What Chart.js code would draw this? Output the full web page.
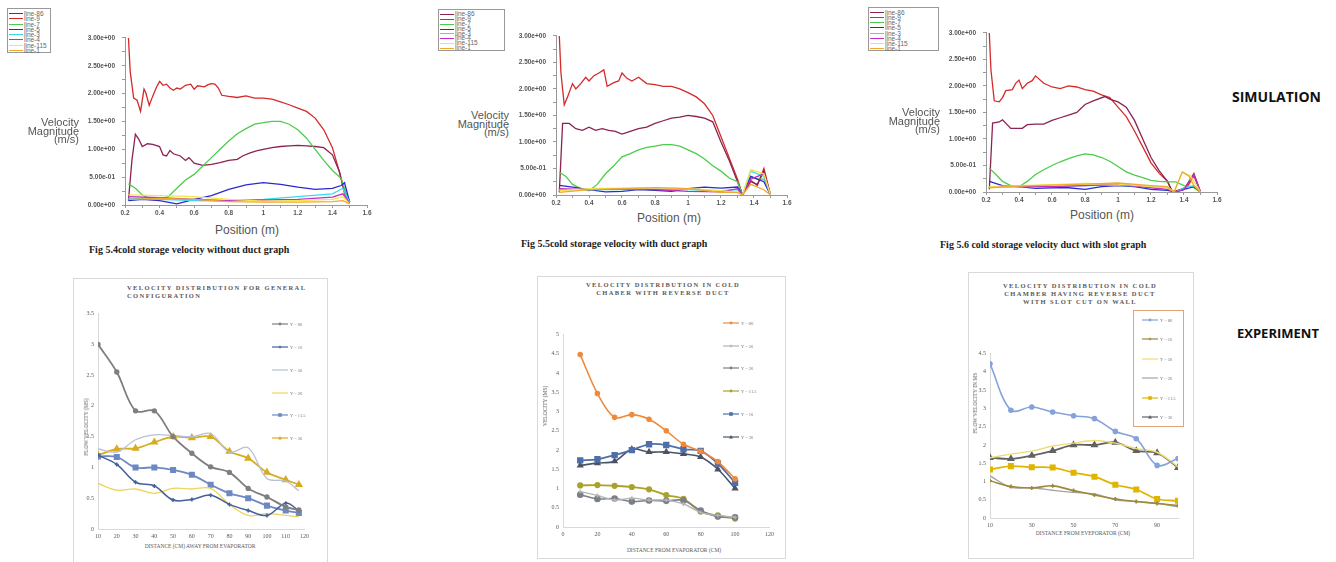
<!DOCTYPE html>
<html>
<head>
<meta charset="utf-8">
<script src="https://cdn.jsdelivr.net/npm/chart.js@4.4.1/dist/chart.umd.min.js"></script>
<style>
  body { margin: 0; width: 1336px; height: 562px; background: #fff; position: relative; overflow: hidden; font-family: Arial, "Liberation Sans", sans-serif; }
  canvas, .abs { position: absolute; }
  .vlabel { position: absolute; text-align: right; font-size: 11px; line-height: 8.5px; color: #555; }
  .poslabel { position: absolute; font-size: 12px; color: #555; transform: translate(-50%, -50%); white-space: nowrap; }
  .cap { position: absolute; font-family: "Liberation Serif", "Times New Roman", serif; font-weight: bold; font-size: 10px; color: #222; white-space: nowrap; transform: translateY(-50%); }
  .side { position: absolute; font-family: "Open Sans", sans-serif; font-weight: bold; color: #111; white-space: nowrap; transform: translateY(-50%); }
  .simleg { position: absolute; border: 1px solid #999; background: #fff; box-sizing: border-box; padding: 2px 2px 0 1px; color: #666; font-size: 6.5px; }
  .simleg div { display: flex; align-items: center; white-space: nowrap; }
  .simleg span { display: inline-block; width: 14px; height: 1px; margin-right: 1px; }
  .panel { position: absolute; border: 1px solid #d9d9d9; background: #fff; box-sizing: border-box; }
  .etitle { position: absolute; font-family: "Liberation Serif", serif; font-weight: bold; font-size: 6.5px; letter-spacing: 1.4px; line-height: 8px; color: #595959; white-space: nowrap; }
  .eaxis { position: absolute; font-family: "Liberation Serif", serif; font-size: 5.5px; color: #595959; white-space: nowrap; transform: translate(-50%, -50%); }
  .eyaxis { position: absolute; font-family: "Liberation Serif", serif; font-size: 5.5px; color: #595959; white-space: nowrap; transform: translate(-50%, -50%) rotate(-90deg); }
  .eleg { position: absolute; display: flex; align-items: center; font-family: "Liberation Serif", serif; font-size: 4.5px; color: #777; white-space: nowrap; }
</style>
</head>
<body>
<script>
// ---------- simulation data (Position m, Velocity m/s) ----------
const simNames = ['line-86', 'line-9', 'line-7', 'line-5', 'line-3', 'line-4', 'line-115', 'line-1'];
const simColors = ['#8b2252', '#d42a2a', '#4ccc4c', '#2a2ad0', '#3cd8f0', '#c030c0', '#f2e64a', '#f0a830'];
const simXTicks = [0.2, 0.3, 0.4, 0.5, 0.6, 0.7, 0.8, 0.9, 1.0, 1.1, 1.2, 1.3, 1.4, 1.5, 1.6];
const simYTicks = [0, 0.25, 0.5, 0.75, 1, 1.25, 1.5, 1.75, 2, 2.25, 2.5, 2.75, 3];

// Fig 5.4
const f54_x86 = [0.22,0.24,0.26,0.28,0.30,0.33,0.36,0.40,0.42,0.44,0.46,0.48,0.52,0.55,0.57,0.60,0.65,0.70,0.75,0.80,0.85,0.88,0.92,0.96,1.00,1.05,1.10,1.15,1.20,1.25,1.30,1.35,1.40,1.44,1.47,1.50];
const f54_y86 = [0.08,0.8,1.27,1.18,1.05,1.1,1.09,1.05,0.9,0.88,0.98,0.92,0.88,0.8,0.85,0.75,0.71,0.73,0.76,0.8,0.82,0.88,0.93,0.97,1.0,1.03,1.05,1.06,1.07,1.06,1.05,1.03,0.9,0.6,0.25,0.05];
const f54_x9 = [0.22,0.23,0.25,0.27,0.29,0.31,0.32,0.34,0.36,0.38,0.40,0.42,0.44,0.46,0.48,0.50,0.52,0.55,0.58,0.60,0.62,0.64,0.66,0.68,0.70,0.72,0.74,0.76,0.80,0.85,0.90,0.95,1.00,1.05,1.10,1.15,1.20,1.25,1.30,1.35,1.40,1.44,1.47,1.50];
const f54_y9 = [3.0,2.4,1.92,1.88,1.68,2.08,2.02,1.79,1.95,2.1,2.22,2.15,2.17,2.1,2.06,2.1,2.08,2.15,2.17,2.08,2.14,2.13,2.12,2.16,2.18,2.17,2.1,1.97,1.95,1.93,1.96,1.92,1.92,1.9,1.85,1.8,1.74,1.68,1.56,1.35,1.03,0.6,0.2,0.05];
const f54_x7 = [0.22,0.26,0.30,0.35,0.40,0.45,0.50,0.55,0.60,0.65,0.70,0.75,0.80,0.85,0.90,0.95,1.00,1.05,1.10,1.15,1.20,1.25,1.30,1.35,1.40,1.45,1.48,1.50];
const f54_y7 = [0.38,0.3,0.18,0.1,0.1,0.15,0.3,0.45,0.55,0.7,0.85,1.0,1.15,1.28,1.37,1.45,1.48,1.5,1.5,1.45,1.35,1.2,1.0,0.8,0.62,0.48,0.2,0.05];
const f54_x5 = [0.22,0.30,0.40,0.50,0.55,0.60,0.70,0.80,0.90,1.00,1.10,1.20,1.30,1.40,1.45,1.47,1.50];
const f54_y5 = [0.08,0.1,0.08,0.02,0.06,0.1,0.17,0.28,0.36,0.4,0.37,0.32,0.28,0.3,0.35,0.4,0.05];
const f54_xLow = [0.22,0.40,0.60,0.80,1.00,1.20,1.40,1.46,1.50];
const f54_y3 = [0.12,0.1,0.08,0.07,0.1,0.15,0.2,0.3,0.05];
const f54_y4 = [0.15,0.13,0.1,0.08,0.09,0.1,0.14,0.2,0.03];
const f54_y115 = [0.18,0.17,0.15,0.1,0.07,0.08,0.1,0.15,0.02];
const f54_y1 = [0.1,0.12,0.1,0.06,0.05,0.05,0.06,0.08,0.02];

// Fig 5.5
const f55_x86 = [0.22,0.24,0.28,0.32,0.36,0.40,0.44,0.48,0.52,0.56,0.60,0.65,0.70,0.75,0.80,0.85,0.90,0.95,1.00,1.05,1.10,1.15,1.20,1.25,1.30,1.33,1.38,1.42,1.46,1.50];
const f55_y86 = [0.05,1.35,1.35,1.25,1.22,1.28,1.22,1.25,1.22,1.2,1.15,1.2,1.25,1.28,1.35,1.4,1.45,1.47,1.5,1.48,1.45,1.38,1.0,0.65,0.25,0.0,0.25,0.2,0.45,0.0];
const f55_x9 = [0.22,0.23,0.25,0.27,0.30,0.32,0.35,0.38,0.40,0.43,0.46,0.49,0.51,0.55,0.58,0.60,0.63,0.66,0.70,0.75,0.80,0.85,0.90,0.95,1.00,1.05,1.10,1.15,1.20,1.25,1.30,1.33,1.38,1.42,1.46,1.50];
const f55_y9 = [3.0,2.3,1.7,1.85,2.1,2.0,2.1,2.22,2.15,2.25,2.3,2.36,2.05,2.12,2.15,2.3,2.2,2.15,2.22,2.1,2.08,2.05,2.05,2.0,1.93,1.85,1.72,1.5,1.1,0.7,0.3,0.0,0.28,0.18,0.5,0.0];
const f55_x7 = [0.22,0.26,0.30,0.35,0.40,0.45,0.50,0.55,0.60,0.65,0.70,0.75,0.80,0.85,0.90,0.95,1.00,1.05,1.10,1.15,1.20,1.25,1.30,1.33,1.38,1.42,1.46,1.50];
const f55_y7 = [0.43,0.35,0.2,0.12,0.08,0.2,0.4,0.55,0.72,0.78,0.85,0.9,0.92,0.95,0.95,0.92,0.85,0.78,0.68,0.55,0.45,0.32,0.25,0.0,0.35,0.3,0.3,0.0];
const f55_x5 = [0.22,0.30,0.40,0.50,0.60,0.70,0.80,0.90,1.00,1.10,1.20,1.30,1.33,1.38,1.42,1.46,1.50];
const f55_y5 = [0.18,0.15,0.1,0.06,0.07,0.1,0.09,0.07,0.12,0.15,0.13,0.15,0.0,0.35,0.3,0.25,0.0];
const f55_xLow = [0.22,0.40,0.60,0.80,1.00,1.20,1.30,1.33,1.38,1.46,1.50];
const f55_y3 = [0.1,0.1,0.1,0.11,0.1,0.08,0.1,0.0,0.45,0.35,0.0];
const f55_y4 = [0.12,0.1,0.12,0.1,0.07,0.06,0.12,0.0,0.3,0.4,0.0];
const f55_y115 = [0.08,0.12,0.13,0.14,0.12,0.08,0.05,0.0,0.48,0.4,0.0];
const f55_y1 = [0.05,0.1,0.12,0.14,0.12,0.05,0.05,0.0,0.2,0.1,0.0];

// Fig 5.6
const f56_x86 = [0.22,0.24,0.28,0.30,0.35,0.40,0.42,0.45,0.50,0.55,0.60,0.65,0.70,0.75,0.80,0.85,0.92,0.95,1.00,1.05,1.10,1.15,1.20,1.25,1.30,1.33,1.40,1.46,1.50];
const f56_y86 = [0.05,1.3,1.32,1.36,1.2,1.2,1.2,1.27,1.28,1.28,1.35,1.4,1.45,1.5,1.65,1.72,1.8,1.75,1.7,1.6,1.35,1.0,0.65,0.4,0.2,0.0,0.05,0.35,0.0];
const f56_x9 = [0.22,0.23,0.25,0.28,0.30,0.32,0.36,0.38,0.40,0.42,0.45,0.48,0.50,0.55,0.60,0.65,0.70,0.75,0.80,0.85,0.90,0.95,1.00,1.05,1.10,1.15,1.20,1.25,1.30,1.33,1.38,1.42,1.46,1.50];
const f56_y9 = [3.0,2.3,1.72,1.7,1.78,1.91,1.93,2.05,2.11,1.95,2.05,2.1,2.19,2.05,1.98,1.95,2.0,1.98,1.93,1.9,1.83,1.78,1.6,1.42,1.15,0.85,0.55,0.35,0.2,0.0,0.05,0.1,0.3,0.0];
const f56_x7 = [0.22,0.26,0.30,0.35,0.40,0.45,0.50,0.55,0.60,0.65,0.70,0.75,0.80,0.85,0.90,0.95,1.00,1.05,1.10,1.15,1.20,1.25,1.30,1.35,1.40,1.45,1.50];
const f56_y7 = [0.45,0.33,0.2,0.12,0.1,0.2,0.33,0.42,0.5,0.57,0.63,0.68,0.72,0.7,0.65,0.58,0.48,0.38,0.32,0.27,0.22,0.2,0.19,0.19,0.12,0.1,0.0];
const f56_x5 = [0.22,0.30,0.40,0.50,0.60,0.70,0.80,0.90,1.00,1.10,1.20,1.30,1.35,1.40,1.46,1.50];
const f56_y5 = [0.2,0.12,0.1,0.07,0.08,0.08,0.05,0.1,0.12,0.1,0.05,0.03,0.0,0.05,0.1,0.0];
const f56_xLow = [0.22,0.40,0.60,0.80,1.00,1.20,1.30,1.35,1.40,1.46,1.50];
const f56_y3 = [0.1,0.1,0.1,0.12,0.13,0.1,0.08,0.0,0.08,0.12,0.0];
const f56_y4 = [0.1,0.1,0.1,0.12,0.15,0.08,0.05,0.0,0.05,0.33,0.0];
const f56_xYel = [0.22,0.40,0.60,0.80,1.00,1.20,1.30,1.34,1.39,1.44,1.50];
const f56_y115 = [0.1,0.12,0.14,0.16,0.15,0.1,0.08,0.0,0.38,0.3,0.0];
const f56_xOra = [0.22,0.40,0.60,0.80,1.00,1.20,1.30,1.34,1.39,1.43,1.46,1.50];
const f56_y1 = [0.08,0.11,0.13,0.15,0.17,0.12,0.1,0.0,0.38,0.3,0.12,0.0];

// ---------- experiment data (distance cm, velocity m/s) ----------
const exp4Labels = ['Y = 86', 'Y = 16', 'Y = 56', 'Y = 26', 'Y = 11.5', 'Y = 36'];
const exp4X = [10, 20, 30, 40, 50, 60, 70, 80, 90, 100, 110, 117];
const exp4_a = [3.0, 2.55, 1.92, 1.92, 1.5, 1.23, 1.01, 0.92, 0.66, 0.52, 0.36, 0.31];
const exp4_b = [1.2, 1.05, 0.76, 0.7, 0.47, 0.48, 0.55, 0.4, 0.3, 0.22, 0.42, 0.3];
const exp4_c = [1.3, 1.25, 1.45, 1.53, 1.52, 1.5, 1.55, 1.25, 1.32, 0.82, 0.78, 0.62];
const exp4_d = [0.74, 0.63, 0.65, 0.58, 0.66, 0.65, 0.66, 0.4, 0.22, 0.25, 0.22, 0.2];
const exp4_e = [1.18, 1.17, 1.0, 1.0, 0.96, 0.88, 0.72, 0.58, 0.5, 0.38, 0.3, 0.26];
const exp4_f = [1.2, 1.3, 1.31, 1.41, 1.5, 1.48, 1.5, 1.26, 1.15, 0.92, 0.8, 0.72];
const exp4XTicks = [10, 20, 30, 40, 50, 60, 70, 80, 90, 100, 110, 120];
const exp4YTicks = [0, 0.5, 1, 1.5, 2, 2.5, 3, 3.5];

const exp5Labels = ['Y = 86', 'Y = 56', 'Y = 26', 'Y = 11.5', 'Y = 16', 'Y = 36'];
const exp5X = [10, 20, 30, 40, 50, 60, 70, 80, 90, 100];
const exp5_a = [4.48, 3.47, 2.85, 2.92, 2.8, 2.5, 2.15, 1.97, 1.7, 1.25];
const exp5_b = [0.92, 0.82, 0.7, 0.75, 0.7, 0.7, 0.6, 0.38, 0.3, 0.25];
const exp5_c = [0.84, 0.73, 0.74, 0.66, 0.69, 0.68, 0.69, 0.43, 0.27, 0.25];
const exp5_d = [1.08, 1.09, 1.07, 1.04, 0.98, 0.83, 0.73, 0.4, 0.3, 0.22];
const exp5_e = [1.73, 1.76, 1.87, 2.0, 2.15, 2.13, 2.02, 1.98, 1.65, 1.15];
const exp5_f = [1.6, 1.66, 1.71, 2.02, 1.95, 1.95, 1.9, 1.82, 1.5, 1.0];
const exp5XTicks = [0, 20, 40, 60, 80, 100, 120];
const exp5YTicks = [0, 0.5, 1, 1.5, 2, 2.5, 3, 3.5, 4, 4.5, 5];

const exp6Labels = ['Y = 86', 'Y = 16', 'Y = 56', 'Y = 26', 'Y = 11.5', 'Y = 36'];
const exp6X = [10, 20, 30, 40, 50, 60, 70, 80, 90, 100];
const exp6_a = [4.22, 2.95, 3.04, 2.9, 2.8, 2.72, 2.37, 2.17, 1.44, 1.63];
const exp6_b = [1.02, 0.86, 0.82, 0.88, 0.75, 0.63, 0.52, 0.45, 0.4, 0.34];
const exp6_c = [1.65, 1.75, 1.83, 1.97, 2.05, 2.12, 2.05, 1.9, 1.8, 1.4];
const exp6_d = [1.15, 0.84, 0.83, 0.76, 0.7, 0.66, 0.5, 0.45, 0.4, 0.31];
const exp6_e = [1.33, 1.42, 1.39, 1.38, 1.24, 1.13, 0.91, 0.78, 0.52, 0.47];
const exp6_f = [1.65, 1.62, 1.71, 1.84, 2.0, 2.0, 2.07, 1.84, 1.78, 1.38];
const exp6XTicks = [10, 30, 50, 70, 90];
const exp6YTicks = [0, 0.5, 1, 1.5, 2, 2.5, 3, 3.5, 4, 4.5];

// ---------- helpers ----------
function el(cls, html, css) {
  const d = document.createElement('div');
  d.className = cls;
  d.innerHTML = html;
  Object.assign(d.style, css);
  document.body.appendChild(d);
  return d;
}

function mount(area, pad) {
  const c = document.createElement('canvas');
  const w = area.r - area.l + pad.l + pad.r;
  const h = area.b - area.t + pad.t + pad.b;
  c.width = w; c.height = h;
  c.style.left = (area.l - pad.l) + 'px';
  c.style.top = (area.t - pad.t) + 'px';
  c.style.width = w + 'px'; c.style.height = h + 'px';
  document.body.appendChild(c);
  return c;
}

function pts(xs, ys) { return xs.map((x, i) => ({ x, y: ys[i] })); }

function sciLabel(v) {
  if (v === 0) return '0.00e+00';
  const [m, e] = v.toExponential(2).split('e');
  const sign = e[0];
  const n = e.slice(1).padStart(2, '0');
  return m + 'e' + sign + n;
}

function simChart(area, lines) {
  const pad = { l: 45, r: 12, t: 8, b: 16 };
  const canvas = mount(area, pad);
  new Chart(canvas, {
    type: 'line',
    data: {
      datasets: lines.map(l => ({
        data: pts(l.x, l.y),
        borderColor: simColors[l.c],
        borderWidth: 1.3,
        pointRadius: 0,
        tension: 0,
        fill: false
      }))
    },
    options: {
      responsive: false, animation: false, events: [],
      layout: { autoPadding: false, padding: { left: 0, top: pad.t, right: pad.r, bottom: 0 } },
      plugins: { legend: { display: false }, tooltip: { enabled: false } },
      scales: {
        x: {
          type: 'linear', min: 0.2, max: 1.6,
          afterFit(s) { s.height = pad.b; },
          afterBuildTicks(s) { s.ticks = simXTicks.map(v => ({ value: v })); },
          border: { color: '#999', width: 1 },
          grid: { drawOnChartArea: false, tickLength: 3, color: '#999' },
          ticks: {
            autoSkip: false, maxRotation: 0, padding: 1,
            color: '#555', font: { size: 6.5, weight: 'bold', family: 'Arial' },
            callback: v => Math.round(v * 10) % 2 === 0 ? String(+v.toFixed(1)) : ''
          }
        },
        y: {
          type: 'linear', min: 0, max: 3,
          afterFit(s) { s.width = pad.l; },
          afterBuildTicks(s) { s.ticks = simYTicks.map(v => ({ value: v })); },
          border: { color: '#999', width: 1 },
          grid: { drawOnChartArea: false, tickLength: 3, color: '#999' },
          ticks: {
            autoSkip: false, padding: 7,
            color: '#555', font: { size: 6.5, weight: 'bold', family: 'Arial' },
            callback: v => Math.round(v * 100) % 50 === 0 ? sciLabel(v) : ''
          }
        }
      }
    }
  });
}

function simLegend(box) {
  const d = el('simleg', '', { left: box.l + 'px', top: box.t + 'px', width: box.w + 'px', height: box.h + 'px' });
  const rowH = (box.h - 3) / simNames.length;
  simNames.forEach((n, i) => {
    const r = document.createElement('div');
    r.style.height = rowH + 'px';
    r.style.lineHeight = rowH + 'px';
    r.innerHTML = `<span style="background:${simColors[i]}"></span>${n}`;
    d.appendChild(r);
  });
}

function simText(vl, pos, cap) {
  el('vlabel', 'Velocity<br>Magnitude<br>(m/s)', { right: (1336 - vl.r) + 'px', top: vl.t + 'px' });
  el('poslabel', 'Position (m)', { left: pos.x + 'px', top: pos.y + 'px' });
  el('cap', cap.text, { left: cap.x + 'px', top: cap.y + 'px' });
}

function markerSvg(style, color) {
  const c = 8, y = 3;
  let m = '';
  if (style === 'circle') m = `<circle cx="${c}" cy="${y}" r="1.4" fill="${color}"/>`;
  if (style === 'rect') m = `<rect x="${c - 1.8}" y="${y - 1.8}" width="3.6" height="3.6" fill="${color}"/>`;
  if (style === 'triangle') m = `<polygon points="${c},${y - 2} ${c + 2},${y + 1.6} ${c - 2},${y + 1.6}" fill="${color}"/>`;
  if (style === 'cross') m = `<path d="M${c - 1.5} ${y}H${c + 1.5}M${c} ${y - 1.5}V${y + 1.5}" stroke="${color}" stroke-width="0.8"/>`;
  return `<svg width="16" height="6" style="margin-right:2px"><line x1="0" y1="${y}" x2="16" y2="${y}" stroke="${color}" stroke-width="1.2"/>${m}</svg>`;
}

function expChart(area, pad, xr, xTicks, yr, yTicks, series) {
  const canvas = mount(area, pad);
  const tickFont = { size: 6, family: 'Liberation Serif' };
  new Chart(canvas, {
    type: 'line',
    data: {
      datasets: series.map(s => ({
        data: pts(s.x, s.y),
        borderColor: s.color,
        backgroundColor: s.color,
        borderWidth: s.w || 1.5,
        pointStyle: s.marker || 'circle',
        pointRadius: s.marker ? (s.r || 2) : 0,
        tension: 0.35,
        fill: false
      }))
    },
    options: {
      responsive: false, animation: false, events: [],
      layout: { autoPadding: false, padding: { left: 0, top: pad.t, right: pad.r, bottom: 0 } },
      plugins: { legend: { display: false }, tooltip: { enabled: false } },
      scales: {
        x: {
          type: 'linear', min: xr[0], max: xr[1],
          afterFit(s) { s.height = pad.b; },
          afterBuildTicks(s) { s.ticks = xTicks.map(v => ({ value: v })); },
          border: { color: '#d9d9d9', width: 1 },
          grid: { display: false, drawTicks: false },
          ticks: { autoSkip: false, maxRotation: 0, padding: 4, color: '#595959', font: tickFont, callback: v => String(v) }
        },
        y: {
          type: 'linear', min: yr[0], max: yr[1],
          afterFit(s) { s.width = pad.l; },
          afterBuildTicks(s) { s.ticks = yTicks.map(v => ({ value: v })); },
          border: { color: '#d9d9d9', width: 1 },
          grid: { display: false, drawTicks: false },
          ticks: { autoSkip: false, padding: 4, color: '#595959', font: tickFont, callback: v => String(v) }
        }
      }
    }
  });
}

function expLegend(x, ys, labels, series) {
  series.forEach((s, i) => {
    el('eleg', markerSvg(s.marker, s.color) + labels[i], { left: x + 'px', top: (ys[i] - 3) + 'px' });
  });
}

// ---------- page ----------
el('side', 'SIMULATION', { left: '1232px', top: '96px', fontSize: '14px' });
el('side', 'EXPERIMENT', { left: '1237px', top: '333px', fontSize: '13px' });

// simulation row
simChart({ l: 125, t: 35, r: 367, b: 205 }, [
  { x: f54_xLow, y: f54_y1, c: 7 }, { x: f54_xLow, y: f54_y115, c: 6 },
  { x: f54_xLow, y: f54_y4, c: 5 }, { x: f54_xLow, y: f54_y3, c: 4 },
  { x: f54_x5, y: f54_y5, c: 3 }, { x: f54_x7, y: f54_y7, c: 2 },
  { x: f54_x86, y: f54_y86, c: 0 }, { x: f54_x9, y: f54_y9, c: 1 }
]);
simLegend({ l: 7, t: 8, w: 44, h: 45 });
simText({ r: 79, t: 118 }, { x: 247, y: 230 }, { x: 89, y: 249, text: 'Fig 5.4cold storage velocity without duct graph' });

simChart({ l: 556, t: 33, r: 787, b: 195 }, [
  { x: f55_xLow, y: f55_y1, c: 7 }, { x: f55_xLow, y: f55_y115, c: 6 },
  { x: f55_xLow, y: f55_y4, c: 5 }, { x: f55_xLow, y: f55_y3, c: 4 },
  { x: f55_x5, y: f55_y5, c: 3 }, { x: f55_x7, y: f55_y7, c: 2 },
  { x: f55_x86, y: f55_y86, c: 0 }, { x: f55_x9, y: f55_y9, c: 1 }
]);
simLegend({ l: 438, t: 9, w: 67, h: 42 });
simText({ r: 509, t: 111 }, { x: 669, y: 218 }, { x: 521, y: 243, text: 'Fig 5.5cold storage velocity with duct graph' });

simChart({ l: 986, t: 30, r: 1217, b: 192 }, [
  { x: f56_xOra, y: f56_y1, c: 7 }, { x: f56_xYel, y: f56_y115, c: 6 },
  { x: f56_xLow, y: f56_y4, c: 5 }, { x: f56_xLow, y: f56_y3, c: 4 },
  { x: f56_x5, y: f56_y5, c: 3 }, { x: f56_x7, y: f56_y7, c: 2 },
  { x: f56_x86, y: f56_y86, c: 0 }, { x: f56_x9, y: f56_y9, c: 1 }
]);
simLegend({ l: 868, t: 7, w: 71, h: 44 });
simText({ r: 940, t: 108 }, { x: 1102, y: 215 }, { x: 940, y: 244, text: 'Fig 5.6 cold storage velocity duct with slot graph' });

// experiment row
el('panel', '', { left: '73px', top: '278px', width: '255px', height: '290px' });
el('panel', '', { left: '537px', top: '276px', width: '249px', height: '283px' });
el('panel', '', { left: '968px', top: '272px', width: '226px', height: '287px' });

const exp4Series = [
  { x: exp4X, y: exp4_a, color: '#7f7f7f', marker: 'circle', r: 1.8, w: 1.8 },
  { x: exp4X, y: exp4_b, color: '#44619b', marker: 'cross', r: 2, w: 1.5 },
  { x: exp4X, y: exp4_c, color: '#b8c0d8', w: 1.3 },
  { x: exp4X, y: exp4_d, color: '#ecd55a', w: 1.3 },
  { x: exp4X, y: exp4_e, color: '#6d88c2', marker: 'rect', r: 3, w: 1.8 },
  { x: exp4X, y: exp4_f, color: '#d6ad22', marker: 'triangle', r: 3, w: 1.8 }
];
expChart({ l: 98, t: 312, r: 305, b: 529 }, { l: 16, r: 8, t: 6, b: 12 }, [10, 120], exp4XTicks, [0, 3.5], exp4YTicks, exp4Series);
el('etitle', 'VELOCITY DISTRIBUTION FOR GENERAL<br>CONFIGURATION', { left: '127px', top: '284px' });
el('eaxis', 'DISTANCE (CM) AWAY FROM EVAPORATOR', { left: '200px', top: '546px' });
el('eyaxis', 'FLOW VELOCITY (MS)', { left: '86px', top: '427px' });
expLegend(272, [324, 347, 370, 393, 415, 438], exp4Labels, exp4Series);

const exp5Series = [
  { x: exp5X, y: exp5_a, color: '#f08a3c', marker: 'circle', r: 2, w: 1.6 },
  { x: exp5X, y: exp5_b, color: '#b4b4b4', marker: 'cross', r: 2, w: 1.3 },
  { x: exp5X, y: exp5_c, color: '#7a7f88', marker: 'circle', r: 2.5, w: 1.6 },
  { x: exp5X, y: exp5_d, color: '#aaa22c', marker: 'circle', r: 2.2, w: 1.8 },
  { x: exp5X, y: exp5_e, color: '#4e6fa8', marker: 'rect', r: 3.2, w: 1.8 },
  { x: exp5X, y: exp5_f, color: '#4a5468', marker: 'triangle', r: 2.6, w: 1.6 }
];
expChart({ l: 563, t: 333, r: 770, b: 527 }, { l: 16, r: 8, t: 6, b: 12 }, [0, 120], exp5XTicks, [0, 5], exp5YTicks, exp5Series);
el('etitle', 'VELOCITY DISTRIBUTION IN COLD<br>CHABER WITH REVERSE DUCT', { left: '663px', top: '281px', textAlign: 'center', transform: 'translateX(-50%)' });
el('eaxis', 'DISTANCE FROM EVAPORATOR (CM)', { left: '674px', top: '550px' });
el('eyaxis', 'VELOCITY (MS)', { left: '545px', top: '406px' });
expLegend(723, [323, 346, 368, 391, 414, 437], exp5Labels, exp5Series);

const exp6Series = [
  { x: exp6X, y: exp6_a, color: '#85a2da', marker: 'circle', r: 2, w: 1.6 },
  { x: exp6X, y: exp6_b, color: '#9c8a3a', marker: 'cross', r: 2, w: 1.6 },
  { x: exp6X, y: exp6_c, color: '#efdc72', w: 1.4 },
  { x: exp6X, y: exp6_d, color: '#a3a3a3', w: 1.4 },
  { x: exp6X, y: exp6_e, color: '#e0b400', marker: 'rect', r: 3, w: 1.8 },
  { x: exp6X, y: exp6_f, color: '#626262', marker: 'triangle', r: 2.8, w: 1.8 }
];
expChart({ l: 990, t: 352, r: 1178, b: 518 }, { l: 14, r: 10, t: 6, b: 12 }, [10, 100], exp6XTicks, [0, 4.5], exp6YTicks, exp6Series);
el('etitle', 'VELOCITY DISTRIBUTION IN COLD<br>CHAMBER HAVING REVERSE DUCT<br>WITH SLOT CUT ON WALL', { left: '1080px', top: '282px', textAlign: 'center', transform: 'translateX(-50%)' });
el('eaxis', 'DISTANCE FROM EVEPORATOR (CM)', { left: '1083px', top: '533px' });
el('eyaxis', 'FLOW VELOCITY IN MS', { left: '975px', top: '403px' });
el('abs', '', { left: '1133px', top: '310px', width: '51px', height: '117px', border: '1px solid #e2a477', boxSizing: 'border-box' });
expLegend(1142, [320, 339, 359, 378, 398, 417], exp6Labels, exp6Series);
</script>
</body>
</html>
